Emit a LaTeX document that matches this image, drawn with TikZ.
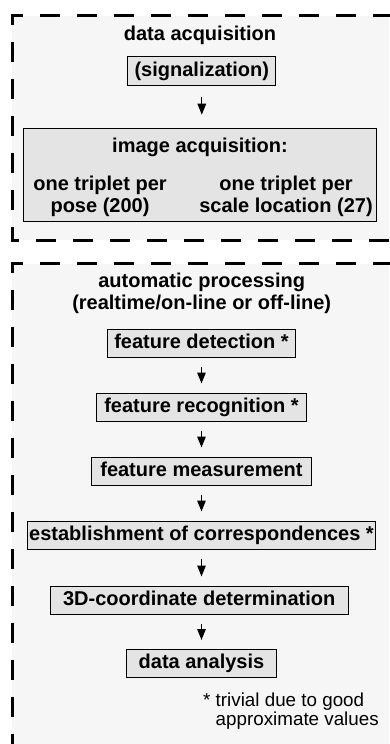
\documentclass[tikz,border=0pt]{standalone}
\usepackage{fontspec}
\setmainfont{Liberation Sans}
\usetikzlibrary{arrows.meta}
\definecolor{panelgray}{HTML}{F6F6F6}
\definecolor{boxgray}{HTML}{E4E4E4}
\newcommand\flowboldfont{\fontsize{20bp}{22bp}\selectfont\bfseries}
\newcommand\flownotefont{\fontsize{18.8bp}{15.5bp}\selectfont}
\begin{document}
\begin{tikzpicture}[x=1bp,y=-1bp,
  dashframe/.style={line width=3bp, dash pattern=on 20bp off 17bp, dash phase=34bp, line cap=butt, line join=miter},
  stepbox/.style={draw=black, line width=1bp, fill=boxgray, inner sep=0pt,
    minimum height=28bp, font=\flowboldfont, text height=14.5bp, text depth=4.5bp},
  heading/.style={font=\flowboldfont, align=center, inner sep=0pt},
  flow/.style={-{Triangle[length=11bp,width=8.5bp]}, line width=1.3bp, shorten <=9bp, shorten >=9bp},
  note/.style={font=\flownotefont, align=left, inner sep=0pt}]
  \useasboundingbox (0,0) rectangle (389,744);
  \fill[white] (0,0) rectangle (389,744);

  % two dashed panels, both running off the right edge
  \fill[panelgray] (12,16) rectangle (389,240);
  \fill[panelgray] (12,263.5) rectangle (389,744);
  \draw[dashframe] (396,16) -- (12,16) -- (12,240) -- (396,240);
  \draw[dashframe] (396,263.5) -- (12,263.5) -- (12,752);

  % data acquisition
  \node[heading] (acqhead) at (200,35) {data acquisition};
  \node[stepbox, minimum width=148bp] (signal) at (201.8,71) {(signalization)};
  \node[stepbox, minimum width=353.4bp, minimum height=93.5bp] (acq) at (200,175) {};
  \node[heading] (acqtitle) at (200,147) {image acquisition:};
  \node[heading] (pose) at (100,196) {one triplet per\\pose (200)};
  \node[heading] (scale) at (286,196) {one triplet per\\scale location (27)};
  \draw[flow, shorten <=11bp, shorten >=13bp] (signal.south) -- (signal.south |- acq.north);

  % automatic processing
  \node[heading] (prochead) at (201.7,293.5) {automatic processing\\(realtime/on-line or off-line)};
  \node[stepbox, minimum width=188.4bp] (detect) at (201.5,343.5) {feature detection *};
  \node[stepbox, minimum width=209.3bp] (recog) at (201.5,407) {feature recognition *};
  \node[stepbox, minimum width=220bp] (measure) at (201.5,471) {feature measurement};
  \node[stepbox, minimum width=348.3bp] (corresp) at (201.5,535) {establishment of correspondences *};
  \node[stepbox, minimum width=298.3bp] (coord) at (199.2,600) {3D-coordinate determination};
  \node[stepbox, minimum width=149.3bp] (analysis) at (201.5,663.5) {data analysis};

  \draw[flow] (detect.south) -- (detect.south |- recog.north);
  \draw[flow] (recog.south) -- (recog.south |- measure.north);
  \draw[flow] (measure.south) -- (measure.south |- corresp.north);
  \draw[flow] (corresp.south) -- (corresp.south |- coord.north);
  \draw[flow] (detect.south |- coord.south) -- (detect.south |- analysis.north);

  \node[note, anchor=north west] (footnote) at (203,693) {* trivial due to good\\\phantom{*\ }approximate values};
\end{tikzpicture}
\end{document}
